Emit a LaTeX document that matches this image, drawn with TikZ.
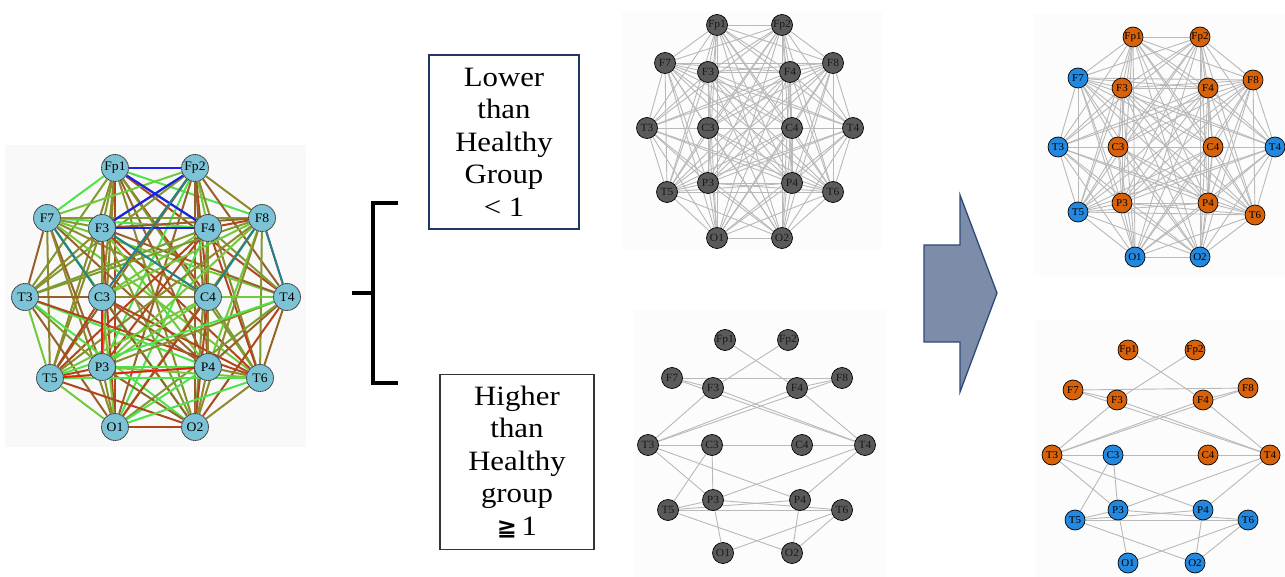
\documentclass[tikz,border=0pt]{standalone}
\usepackage{fontspec}
\setmainfont{Liberation Serif}
\newfontfamily\symfont{DejaVu Sans}
\newfontfamily\boxfont[FakeStretch=1.1]{Liberation Serif}
\newfontfamily\labfont[FakeStretch=1.05]{Liberation Serif}

\definecolor{nodeblue}{HTML}{7DC3D6}
\definecolor{elecor}{HTML}{D8620A}
\definecolor{elecbl}{HTML}{2389E0}
\definecolor{nodegray}{HTML}{5A5A5A}
\definecolor{edgegray}{HTML}{B9B9B9}
\definecolor{arrowfill}{HTML}{7D8CA8}
\definecolor{arrowline}{HTML}{2E4A78}
\definecolor{boxline}{HTML}{1F3864}
\definecolor{panelfill}{HTML}{FCFCFC}
\definecolor{panelfilla}{HTML}{F9F9F9}
% edge palette of the coloured network
\definecolor{ec1}{HTML}{4FE24A}
\definecolor{ec2}{HTML}{72C93C}
\definecolor{ec3}{HTML}{8C8A2C}
\definecolor{ec4}{HTML}{97622A}
\definecolor{ec5}{HTML}{B0461E}
\definecolor{ec6}{HTML}{7E9A30}
\definecolor{eblue}{HTML}{1C22E6}
\definecolor{eteal}{HTML}{24808E}
\definecolor{ered}{HTML}{EE1A10}

\pgfdeclarelayer{bg}
\pgfdeclarelayer{edges}
\pgfsetlayers{bg,edges,main}

\tikzset{
  eleca/.style={circle, inner sep=0pt, minimum size=27pt, fill=nodeblue,
    draw=black!75, line width=0.9pt, dash pattern=on 1.3pt off 0.5pt,
    font=\labfont\fontsize{13}{13}\selectfont},
  elecg/.style={circle, inner sep=0pt, minimum size=21pt, fill=nodegray,
    draw=black, line width=0.7pt, text=black!90,
    font=\labfont\fontsize{11}{11}\selectfont},
  elecc/.style={circle, inner sep=0pt, minimum size=20pt,
    draw=black, line width=0.7pt, text=black,
    font=\labfont\fontsize{10.5}{10.5}\selectfont},
  greylink/.style={draw=edgegray, line width=0.9pt},
  panel/.style={fill=panelfill, draw=none},
  groupbox/.style={draw, line width=1.2pt, align=center, inner sep=0pt,
    font=\boxfont\fontsize{28}{32.5}\selectfont},
}

\newcommand\elnames{Fp1,Fp2,F7,F3,F4,F8,T3,C3,C4,T4,P3,P4,T5,T6,O1,O2}
\newcommand\sparselinks{Fp1/F4, Fp2/F3, F7/F8, F7/F3, F7/T4, F3/T4, F4/F8, F4/T4,
  T3/F3, T3/F4, T3/F8, T3/C3, C3/C4, C4/T4, T3/P3, T3/P4, C3/P3, C3/T5,
  T4/P3, T4/P4, T5/P3, T5/P4, T5/T6, P3/T6, P3/O1, T5/O2, P4/O2, O1/T6, O2/T6}

\begin{document}
\begin{tikzpicture}[x=1pt,y=-1pt]
\useasboundingbox (0,0) rectangle (1285,577);

% panel backgrounds
\begin{pgfonlayer}{bg}
  \fill[panel, fill=panelfilla] (5,145) rectangle (306,447);
  \fill[panel] (622,12) rectangle (882,250);
  \fill[panel] (633,310) rectangle (885,577);
  \fill[panel] (1033,14) rectangle (1285,276);
  \fill[panel] (1036,320) rectangle (1285,577);
\end{pgfonlayer}

% ---------- coloured network ----------
\foreach \n/\x/\y in {Fp1/115/168, Fp2/195/168, F7/47/218, F3/102/228, F4/208/228,
  F8/262/218, T3/25/297, C3/102/297, C4/208/297, T4/287/297, P3/102/367,
  P4/208/367, T5/50/378, T6/260/378, O1/115/427, O2/195/427}
  \node[eleca] (a-\n) at (\x,\y) {\n};

\begin{pgfonlayer}{edges}
  \pgfmathsetseed{23}
  \foreach \u [count=\i] in \elnames {
    \foreach \v [count=\j] in \elnames {
      \ifnum\j>\i
        \pgfmathrandominteger{\r}{1}{6}
        \draw[line width=2pt, color=ec\r] (a-\u) -- (a-\v);
      \fi
    }
  }
  \foreach \u/\v in {Fp1/Fp2, Fp1/F4, Fp2/F3, F3/F4}
    \draw[line width=2.2pt, eblue] (a-\u) -- (a-\v);
  \foreach \u/\v in {F3/C4, F8/C4, F8/T4, Fp2/C3, F7/C3}
    \draw[line width=1.9pt, eteal] (a-\u) -- (a-\v);
  \foreach \u/\v in {C3/P3, T5/P4}
    \draw[line width=1.9pt, ered] (a-\u) -- (a-\v);
\end{pgfonlayer}

% ---------- grey network, dense ----------
\foreach \n/\x/\y in {Fp1/717/25, Fp2/782/25, F7/665/63, F3/708/72, F4/790/72,
  F8/833/63, T3/647/128, C3/708/128, C4/792/128, T4/853/128, P3/708/183,
  P4/792/183, T5/667/192, T6/833/192, O1/717/238, O2/782/238}
  \node[elecg] (b-\n) at (\x,\y) {\n};

\begin{pgfonlayer}{edges}
  \foreach \u [count=\i] in \elnames {
    \foreach \v [count=\j] in \elnames {
      \ifnum\j>\i \draw[greylink] (b-\u) -- (b-\v); \fi
    }
  }
\end{pgfonlayer}

% ---------- grey network, sparse ----------
\foreach \n/\x/\y in {Fp1/725/340, Fp2/788/340, F7/672/378, F3/713/388, F4/797/388,
  F8/842/378, T3/648/445, C3/712/445, C4/802/445, T4/865/445, P3/713/500,
  P4/800/500, T5/668/510, T6/842/510, O1/723/553, O2/792/553}
  \node[elecg] (c-\n) at (\x,\y) {\n};

\begin{pgfonlayer}{edges}
  \foreach \u/\v in \sparselinks \draw[greylink] (c-\u) -- (c-\v);
\end{pgfonlayer}

% ---------- clustered network, dense ----------
\foreach \n/\x/\y/\c in {Fp1/1133/37/elecor, Fp2/1200/37/elecor, F7/1078/78/elecbl,
  F3/1122/88/elecor, F4/1208/88/elecor, F8/1253/80/elecor, T3/1058/147/elecbl,
  C3/1118/147/elecor, C4/1213/147/elecor, T4/1275/147/elecbl, P3/1122/203/elecor,
  P4/1208/203/elecor, T5/1078/212/elecbl, T6/1255/215/elecor, O1/1135/257/elecbl,
  O2/1200/257/elecbl}
  \node[elecc, fill=\c] (d-\n) at (\x,\y) {\n};

\begin{pgfonlayer}{edges}
  \foreach \u [count=\i] in \elnames {
    \foreach \v [count=\j] in \elnames {
      \ifnum\j>\i \draw[greylink] (d-\u) -- (d-\v); \fi
    }
  }
\end{pgfonlayer}

% ---------- clustered network, sparse ----------
\foreach \n/\x/\y/\c in {Fp1/1128/350/elecor, Fp2/1195/350/elecor, F7/1073/390/elecor,
  F3/1117/400/elecor, F4/1203/400/elecor, F8/1248/388/elecor, T3/1052/455/elecor,
  C3/1113/455/elecbl, C4/1208/455/elecor, T4/1270/455/elecor, P3/1118/510/elecbl,
  P4/1203/510/elecbl, T5/1075/520/elecbl, T6/1248/520/elecbl, O1/1128/563/elecbl,
  O2/1195/563/elecbl}
  \node[elecc, fill=\c] (e-\n) at (\x,\y) {\n};

\begin{pgfonlayer}{edges}
  \foreach \u/\v in \sparselinks \draw[greylink] (e-\u) -- (e-\v);
\end{pgfonlayer}

% ---------- group boxes ----------
\node[groupbox, draw=boxline, minimum width=150pt, minimum height=174pt]
  (lower) at (504,142) {Lower\\than\\Healthy\\Group\\< 1};
\node[groupbox, draw=black!80, minimum width=154pt, minimum height=175pt]
  (higher) at (517,462) {Higher\\than\\Healthy\\group\\{\symfont\bfseries\fontsize{24}{24}\selectfont ≧}\,1};

% ---------- bracket ----------
\coordinate (brtop) at (398,203);
\coordinate (brbot) at (398,383);
\coordinate (brstem) at (352,293);
\draw[line width=3.6pt] (brtop) -- (373,203) -- (373,383) -- (brbot);
\draw[line width=3.6pt] (brstem) -- (373,293);

% ---------- block arrow ----------
\draw[fill=arrowfill, draw=arrowline, line width=1.3pt, line join=miter]
  (924,245) -- (960,245) -- (960,195) -- (997,293) -- (960,392) -- (960,342)
  -- (924,342) -- cycle;
\end{tikzpicture}
\end{document}
